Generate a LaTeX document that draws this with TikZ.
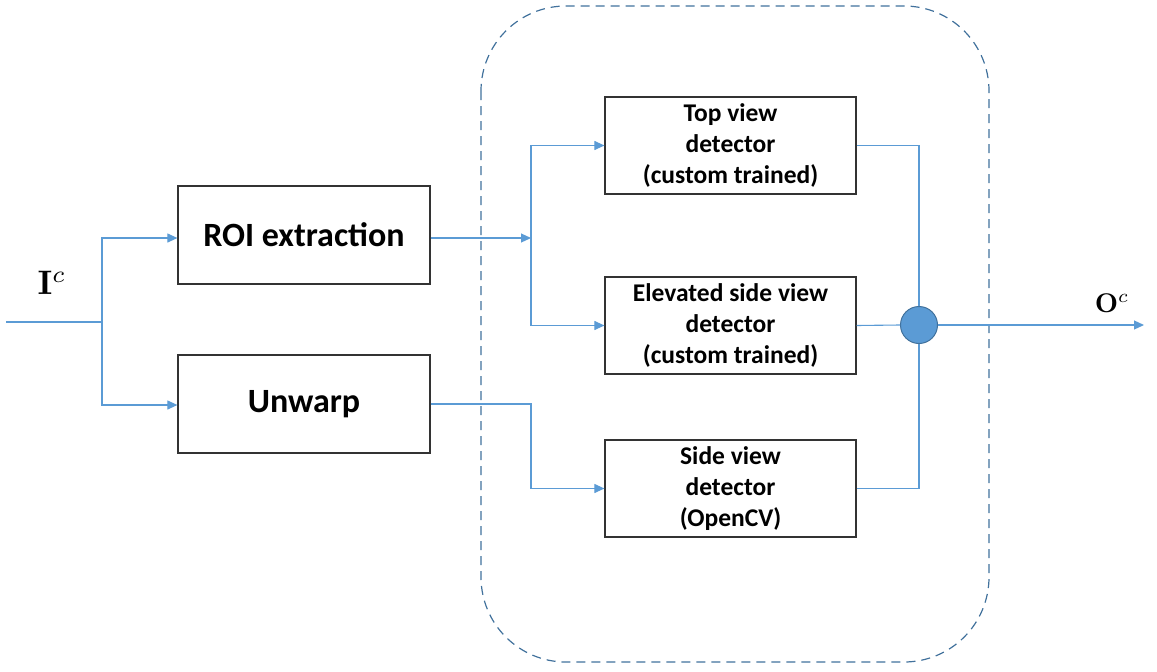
\documentclass[tikz,border=0pt]{standalone}
\usepackage{graphicx}
\usepackage[no-math]{fontspec}
\setmainfont{Carlito}
\usetikzlibrary{arrows.meta}
\definecolor{lblue}{HTML}{5B9BD5}
\definecolor{dblue}{HTML}{41719C}
\tikzset{
  blk/.style={draw=black!80, line width=1.2pt, minimum width=252pt, minimum height=98pt, align=center, font=\bfseries\fontsize{34}{40}\selectfont, inner sep=0pt},
  det/.style={draw=black!80, line width=1.2pt, minimum width=251pt, minimum height=97pt, align=center, font=\bfseries\fontsize{25.5}{31}\selectfont, inner sep=0pt},
  conn/.style={draw=lblue, line width=1.1pt},
  arr/.style={conn, -{Triangle[length=10pt,width=9pt]}},
}
\begin{document}
\begin{tikzpicture}[x=1pt,y=-1pt]
\useasboundingbox (0,0) rectangle (1157,672);
\draw[dblue, line width=1.2pt, dash pattern=on 9pt off 6pt, rounded corners=85pt] (481,6) rectangle (989,662);
\node[blk] (roi) at (304,235) {ROI extraction};
\node[blk] (unw) at (304,404) {Unwarp};
\node[det] (top) at (730.5,145.5) {Top view\\detector\\(custom trained)};
\node[det] (ele) at (730.5,325.5) {Elevated side view\\detector\\(custom trained)};
\node[det] (side) at (730.5,488.5) {Side view\\detector\\(OpenCV)};
\node[circle, fill=lblue, draw=dblue, line width=1pt, minimum size=37pt, inner sep=0pt] (sum) at (919,325) {};
\coordinate (in) at (6,322);
\coordinate (split) at (102,322);
\coordinate (mid) at (531,238);
\coordinate (bend) at (531,404);
\coordinate (out) at (1144,325);
\node (ilab) at (52,283) {\scalebox{3.4}{$\mathbf{I}^{c}$}};
\node (olab) at (1112,303) {\scalebox{2.7}{$\mathbf{O}^{c}$}};
\draw[conn] (in) -- (split);
\draw[arr] (split) |- ([yshift=-3pt]roi.west);
\draw[arr] (split) |- ([yshift=-1pt]unw.west);
\draw[arr] (roi.east |- mid) -- (mid);
\draw[arr] (mid) |- (top.west);
\draw[arr] (mid) |- (ele.west);
\draw[arr] (unw.east |- bend) -- (bend) |- (side.west);
\draw[conn] (top.east) -| (sum.north);
\draw[conn] (side.east) -| (sum.south);
\draw[conn] (ele.east) -- (sum.west);
\draw[arr] (sum.east) -- (out);
\end{tikzpicture}
\end{document}
